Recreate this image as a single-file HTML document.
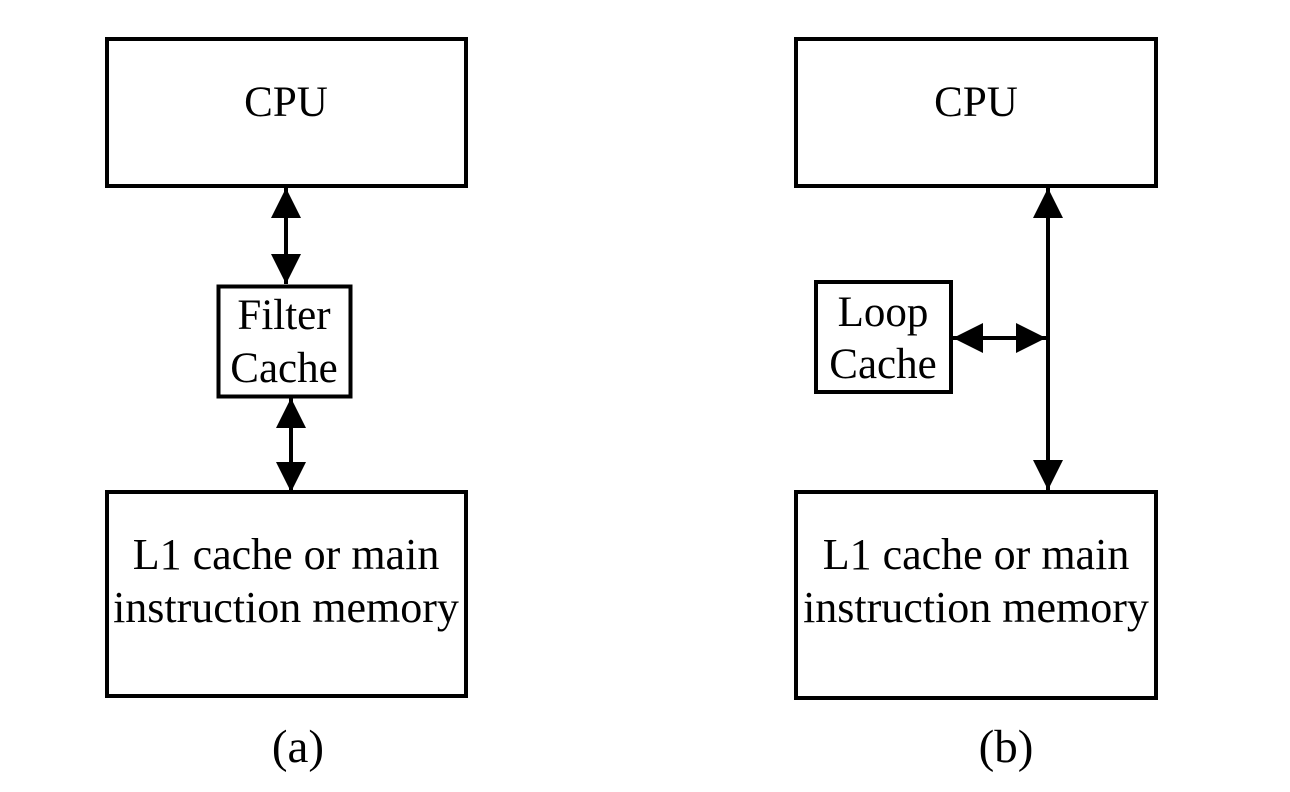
<!DOCTYPE html>
<html><head><style>body{margin:0;background:#fff}</style></head><body>
<svg width="1290" height="787" viewBox="0 0 1290 787" xmlns="http://www.w3.org/2000/svg" font-family="Liberation Serif, serif" font-size="44" text-anchor="middle" fill="#000">
<defs>
<marker id="ah" viewBox="0 0 10 10" refX="10" refY="5" markerWidth="7.5" markerHeight="7.5" orient="auto-start-reverse" markerUnits="strokeWidth"><path d="M0,0L10,5L0,10z"/></marker>
</defs>
<g fill="none" stroke="#000" stroke-width="4">
<rect x="107" y="39" width="359" height="147"/>
<rect x="218.5" y="286.5" width="132" height="110"/>
<rect x="107" y="492" width="359" height="204"/>
<rect x="796" y="39" width="360" height="147"/>
<rect x="816" y="282" width="135" height="110"/>
<rect x="796" y="492" width="360" height="206"/>
<line x1="286" y1="188" x2="286" y2="284" marker-start="url(#ah)" marker-end="url(#ah)"/>
<line x1="291" y1="398" x2="291" y2="492" marker-start="url(#ah)" marker-end="url(#ah)"/>
<line x1="1048" y1="188" x2="1048" y2="490" marker-start="url(#ah)" marker-end="url(#ah)"/>
<line x1="953" y1="338" x2="1046" y2="338" marker-start="url(#ah)" marker-end="url(#ah)"/>
</g>
<g stroke="none">
<text x="286" y="116" font-size="43">CPU</text>
<text x="284" y="329" font-size="43">Filter</text>
<text x="284" y="382" font-size="43">Cache</text>
<text x="286" y="569">L1 cache or main</text>
<text x="286" y="622">instruction memory</text>
<text x="976" y="116" font-size="43">CPU</text>
<text x="883" y="326" font-size="43">Loop</text>
<text x="883" y="378" font-size="43">Cache</text>
<text x="976" y="569">L1 cache or main</text>
<text x="976" y="622">instruction memory</text>
<text x="298" y="762" font-size="47">(a)</text>
<text x="1006" y="762" font-size="47">(b)</text>
</g>
</svg>
</body></html>
